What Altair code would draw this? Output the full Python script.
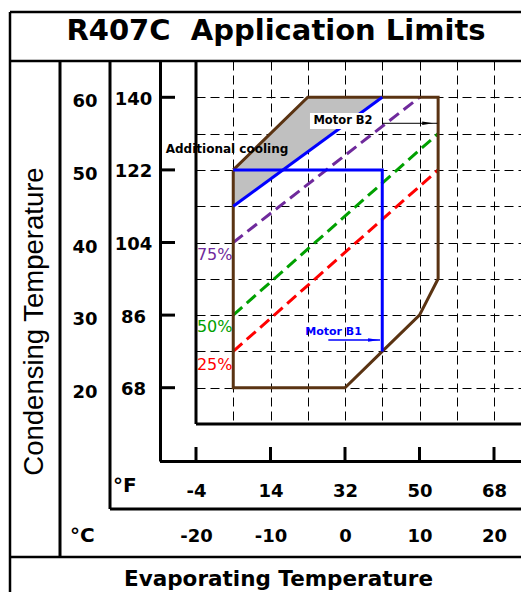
import altair as alt
import pandas as pd

# ---------------- data (temperatures in °C) ----------------
env_x = [-15, -5, 12.5, 12.5, 10, 5, 0, -15, -15]
env_y = [50, 60, 60, 35, 30, 25, 20, 20, 50]

cool_x = [-15, -5, 5]
cool_top = [50, 60, 60]
cool_bot = [45, 52.5, 60]

b1_x = [-15, 5, 5]
b1_y = [50, 50, 25]
b2_x = [-15, 5]
b2_y = [45, 60]

p75_x = [-15, 10]
p75_y = [40, 60]
p50_x = [-15, 12.5]
p50_y = [30, 55]
p25_x = [-15, 12.5]
p25_y = [25, 50]

ticks_x = [-20, -10, 0, 10, 20]
ticks_y = [20, 30, 40, 50, 60]
grid_x = [-15, -10, -5, 0, 5, 10, 15, 20]
grid_y = [20, 25, 30, 35, 40, 45, 50, 55, 60]

pct_labels = ["75%", "50%", "25%"]
pct_y = [38.3, 28.4, 23.1]

# ---------------- styling ----------------
BROWN = "#5a3312"
BLUE = "#0000ff"
PURPLE = "#6f2a9c"
GREEN = "#00a000"
RED = "#ff0000"
GRAY = "#c0c0c0"
FONT = "DejaVu Sans"

W, H = 325, 363
TOTAL_H = 584

XS = alt.Scale(domain=[-20, -20 + W / 7.45], nice=False, zero=False)
YS = alt.Scale(domain=[15, 65], nice=False, zero=False)

dummy = pd.DataFrame({"d": [0]})


def path_df(xs, ys):
    return pd.DataFrame({"x": xs, "y": ys, "i": list(range(len(xs)))})


def xenc(axis=None):
    return alt.X("x:Q", scale=XS, axis=axis, title=None)


def yenc(axis=None):
    return alt.Y("y:Q", scale=YS, axis=axis, title=None)


def hline(y, x1, x2, w=3):
    return alt.Chart(dummy).mark_rule(color="black", strokeWidth=w).encode(
        x=alt.value(x1), x2=alt.value(x2), y=alt.value(y))


def vline(x, y1, y2, w=3):
    return alt.Chart(dummy).mark_rule(color="black", strokeWidth=w).encode(
        y=alt.value(y1), y2=alt.value(y2), x=alt.value(x))


def label(text, x, y, size, weight="normal", align="center", baseline="alphabetic",
          angle=0, font=FONT):
    return alt.Chart(dummy).mark_text(
        text=text, fontSize=size, fontWeight=weight, font=font, align=align,
        baseline=baseline, angle=angle, color="black").encode(
        x=alt.value(x), y=alt.value(y))


lab_common = dict(labelFont=FONT, labelFontSize=18, labelFontWeight="bold",
                  labelColor="black", labelOverlap=False, labelFlush=False,
                  ticks=False, tickSize=0, domain=False, grid=False,
                  labelPadding=0)

C_EXPR = "'' + datum.value"
F_EXPR = "'' + round(datum.value*9/5+32)"

ax_x_c = alt.Axis(values=ticks_x, orient="bottom", offset=112.6, labelBaseline="middle",
                  labelAlign="center", labelExpr=C_EXPR, **lab_common)
ax_x_f = alt.Axis(values=ticks_x, orient="bottom", offset=67.6, labelBaseline="middle",
                  labelAlign="center", labelExpr=F_EXPR, **lab_common)
ax_y_c = alt.Axis(values=ticks_y, orient="left", offset=99, labelAlign="right",
                  labelBaseline="middle", labelOffset=4.5, labelExpr=C_EXPR,
                  **lab_common)
ax_y_f = alt.Axis(values=ticks_y, orient="left", offset=63, labelAlign="center",
                  labelBaseline="middle", labelOffset=2, labelExpr=F_EXPR,
                  **lab_common)

grid_common = dict(grid=True, gridColor="black", gridDash=[9, 5], gridWidth=1,
                   gridOpacity=1, labels=False, ticks=False, domain=False)
ax_x_grid = alt.Axis(values=grid_x, **grid_common)
ax_y_grid = alt.Axis(values=grid_y, **grid_common)

# ---------------- marks ----------------
cool_df = pd.DataFrame({"x": cool_x, "top": cool_top, "bot": cool_bot})
cooling = alt.Chart(cool_df).mark_area(color=GRAY, opacity=1).encode(
    x=alt.X("x:Q", scale=XS, axis=ax_x_grid, title=None),
    y=alt.Y("top:Q", scale=YS, axis=ax_y_grid, title=None),
    y2=alt.Y2("bot:Q"))


def dashed(xs, ys, color, ax_x=None, ax_y=None):
    return alt.Chart(path_df(xs, ys)).mark_line(
        color=color, strokeWidth=3, strokeDash=[12, 6], strokeCap="butt").encode(
        x=xenc(ax_x), y=yenc(ax_y), order="i:Q")


l75 = dashed(p75_x, p75_y, PURPLE)
l50 = dashed(p50_x, p50_y, GREEN, ax_x_f, ax_y_f)
l25 = dashed(p25_x, p25_y, RED, ax_x_c, ax_y_c)

envelope = alt.Chart(path_df(env_x, env_y)).mark_line(
    color=BROWN, strokeWidth=3, strokeJoin="miter").encode(
    x=xenc(), y=yenc(), order="i:Q")

motor_b1 = alt.Chart(path_df(b1_x, b1_y)).mark_line(
    color=BLUE, strokeWidth=3, strokeJoin="miter").encode(
    x=xenc(), y=yenc(), order="i:Q")
motor_b2 = alt.Chart(path_df(b2_x, b2_y)).mark_line(
    color=BLUE, strokeWidth=3).encode(x=xenc(), y=yenc(), order="i:Q")

# Motor B2 annotation: white label box, text and arrow
b2_box = alt.Chart(pd.DataFrame({"x": [-4.7], "x2": [3.76], "y": [55.63], "y2": [57.84]})
                   ).mark_rect(color="white").encode(
    x=xenc(), x2="x2:Q", y=yenc(), y2="y2:Q")
b2_text = alt.Chart(pd.DataFrame({"x": [-0.27], "y": [56.67], "t": ["Motor B2"]})
                    ).mark_text(font=FONT, fontSize=11.5, fontWeight="bold",
                                baseline="middle", color="black").encode(
    x=xenc(), y=yenc(), text="t:N")
ARROW = "M-1,-0.32L1,0L-1,0.32Z"
b2_arrow = alt.Chart(pd.DataFrame({"x": [5.0], "x2": [12.4], "y": [56.42]})).mark_rule(
    color="black", strokeWidth=1).encode(x=xenc(), x2="x2:Q", y=yenc())
b2_head = alt.Chart(pd.DataFrame({"x": [11.1], "y": [56.42]})).mark_point(
    shape=ARROW, filled=True, size=121, color="black", opacity=1).encode(
    x=xenc(), y=yenc())

b1_text = alt.Chart(pd.DataFrame({"x": [-1.54], "y": [27.71], "t": ["Motor B1"]})
                    ).mark_text(font=FONT, fontSize=11, fontWeight="bold",
                                baseline="middle", color=BLUE).encode(
    x=xenc(), y=yenc(), text="t:N")
b1_arrow = alt.Chart(pd.DataFrame({"x": [-2.24], "x2": [4.7], "y": [26.57]})).mark_rule(
    color=BLUE, strokeWidth=1.5).encode(x=xenc(), x2="x2:Q", y=yenc())
b1_head = alt.Chart(pd.DataFrame({"x": [3.83], "y": [26.57]})).mark_point(
    shape=ARROW, filled=True, size=121, color=BLUE, opacity=1).encode(
    x=xenc(), y=yenc())

cool_text = alt.Chart(pd.DataFrame({"x": [-15.84], "y": [52.88],
                                    "t": ["Additional cooling"]})).mark_text(
    font=FONT, fontSize=12, fontWeight="bold", baseline="middle", color="black").encode(
    x=xenc(), y=yenc(), text="t:N")

pct_layers = []
for txt, yy, col in zip(pct_labels, pct_y, [PURPLE, GREEN, RED]):
    pct_layers.append(
        alt.Chart(pd.DataFrame({"x": [-15.1], "y": [yy], "t": [txt]})).mark_text(
            font=FONT, fontSize=16, align="right", baseline="middle", color=col).encode(
            x=xenc(), y=yenc(), text="t:N"))

# tick marks on the outer axis lines
ytick_df = pd.DataFrame({"y": ticks_y})
yticks = alt.Chart(ytick_df).mark_rule(color="black", strokeWidth=3).encode(
    y=yenc(), x=alt.value(-36), x2=alt.value(-21))
xtick_df = pd.DataFrame({"x": ticks_x})
xticks = alt.Chart(xtick_df).mark_rule(color="black", strokeWidth=3).encode(
    x=xenc(), y=alt.value(386), y2=alt.value(400.5))

# ---------------- table frame ----------------
RIGHT = W + 10
frame = [
    hline(-49, -186, RIGHT, 2.5),          # outer top
    vline(-186, -49, 560, 2.5),            # outer left
    hline(0, -186, RIGHT, 2.5),            # under the title
    vline(-136, 0, 496),                   # after the rotated title
    vline(-86, 0, 448),                    # after the °C column
    vline(-35.5, 0, 400.5),                # after the °F column
    hline(400.5, -36, RIGHT),              # above the °F row
    hline(448, -86, RIGHT),                # above the °C row
    hline(496, -186, RIGHT, 2.5),          # above the x title
    vline(0, 0, 363),                      # plot left axis
    hline(363, 0, RIGHT),                  # plot bottom axis
]

texts = [
    label("R407C\u00a0\u00a0Application Limits", 80, -21.5, 29, weight="bold"),
    label("Evaporating Temperature", 82.5, 524.5, 21.5, weight="bold"),
    label("Condensing Temperature", -153.5, 260.5, 27.5, angle=270,
          font="Liberation Sans"),
    label("°F", -83, 425, 20, weight="bold", align="left", baseline="middle"),
    label("°C", -126, 475, 20, weight="bold", align="left", baseline="middle"),
]

layers = ([cooling, l75, l50, l25, envelope, motor_b1, motor_b2,
           b2_box, b2_text, b2_arrow, b2_head, b1_text, b1_arrow, b1_head,
           cool_text] + pct_layers + [yticks, xticks] + frame + texts)

chart = alt.layer(*layers).resolve_axis(x="independent", y="independent").properties(
    width=W, height=H,
    autosize=alt.AutoSizeParams(type="none"),
    padding={"left": 188, "top": 53, "right": 0, "bottom": TOTAL_H - 53 - H},
    background="white",
).configure_view(stroke=None)

chart.save("out.html", embed_options={"renderer": "svg", "actions": False})
